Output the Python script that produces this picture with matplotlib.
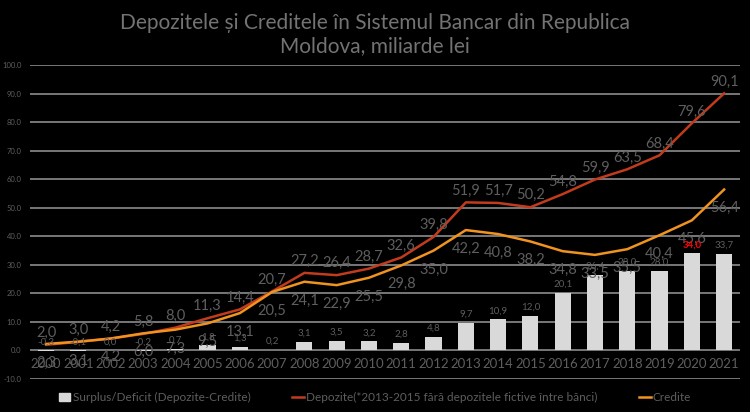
import matplotlib.pyplot as plt
from matplotlib.lines import Line2D
from matplotlib.patches import Patch
import numpy as np

years = [str(y) for y in range(2000, 2022)]
depozite = [2.0, 3.0, 4.2, 5.8, 8.0, 11.3, 14.4, 20.7, 27.2, 26.4, 28.7, 32.6,
            39.8, 51.9, 51.7, 50.2, 54.8, 59.9, 63.5, 68.4, 79.6, 90.1]
credite = [2.3, 3.1, 4.2, 6.0, 7.3, 9.5, 13.1, 20.5, 24.1, 22.9, 25.5, 29.8,
           35.0, 42.2, 40.8, 38.2, 34.8, 33.5, 35.5, 40.4, 45.6, 56.4]
surplus = [-0.3, -0.1, 0.0, -0.2, 0.7, 1.8, 1.3, 0.2, 3.1, 3.5, 3.2, 2.8,
           4.8, 9.7, 10.9, 12.0, 20.1, 26.4, 28.0, 28.0, 34.0, 33.7]

BG = '#000000'
GRID = '#8c8c8c'
TXT = '#5e5e5e'
C_DEP = '#C23B1C'
C_CRED = '#F0931F'
C_BAR = '#D9D9D9'

plt.rcParams['font.family'] = ['Lato', 'DejaVu Sans']

fig = plt.figure(figsize=(7.5, 4.12), dpi=100, facecolor=BG)
ax = fig.add_axes([0.04, 0.08, 0.947, 0.762])
ax.set_facecolor(BG)

x = np.arange(len(years))
ax.set_xlim(-0.5, len(years) - 0.5)
ax.set_ylim(-10, 100)

for v in range(-10, 101, 10):
    ax.axhline(v, color=GRID, lw=1.2, zorder=0)

ax.bar(x, surplus, width=0.5, color=C_BAR, zorder=2)
ax.plot(x, depozite, color=C_DEP, lw=1.8, zorder=3)
ax.plot(x, credite, color=C_CRED, lw=1.8, zorder=3)


def fmt(v):
    return f"{v:.1f}".replace('.', ',')


for i in x:
    ax.annotate(fmt(depozite[i]), (i, depozite[i]), xytext=(0, 3.5),
                textcoords='offset points', ha='center', va='bottom',
                fontsize=10.5, color=TXT, zorder=4)
    ax.annotate(fmt(credite[i]), (i, credite[i]), xytext=(0, -8.5),
                textcoords='offset points', ha='center', va='top',
                fontsize=10.5, color=TXT, zorder=4)
    top = max(surplus[i], 0)
    if i == 20:
        ax.annotate(fmt(surplus[i]), (i, top), xytext=(0, 2.5),
                    textcoords='offset points', ha='center', va='bottom',
                    fontsize=7, color='#FF0000', fontweight='bold', zorder=6)
    else:
        ax.annotate(fmt(surplus[i]), (i, top), xytext=(0, 3),
                    textcoords='offset points', ha='center', va='bottom',
                    fontsize=7, color=TXT, zorder=4)
    ax.text(i, -4.9, years[i], ha='center', va='center', fontsize=9.5,
            color=TXT, zorder=4)

ax.set_xticks([])
ax.set_yticks(range(-10, 101, 10))
ax.set_yticklabels([f"{v:.1f}" for v in range(-10, 101, 10)],
                   fontsize=5.5, color=TXT)
ax.tick_params(axis='y', length=0, pad=6)
for s in ax.spines.values():
    s.set_visible(False)

fig.text(0.5, 0.945, "Depozitele și Creditele în Sistemul Bancar din Republica",
         ha='center', va='center', fontsize=15, color='#737373')
fig.text(0.5, 0.888, "Moldova, miliarde lei", ha='center', va='center',
         fontsize=15, color='#737373')

handles = [Patch(facecolor=C_BAR, edgecolor=C_BAR),
           Line2D([0], [0], color=C_DEP, lw=1.8),
           Line2D([0], [0], color=C_CRED, lw=1.8)]
labels = ["Surplus/Deficit (Depozite-Credite)",
          "Depozite(*2013-2015 fără depozitele fictive între bănci)",
          "Credite"]
fig.legend(handles, labels, loc='center', bbox_to_anchor=(0.5, 0.035),
           ncol=3, frameon=False, fontsize=8.5, handlelength=1.0,
           handletextpad=0.2, columnspacing=3.5, labelcolor=TXT)

fig.savefig('out.png', dpi=100, facecolor=BG)
